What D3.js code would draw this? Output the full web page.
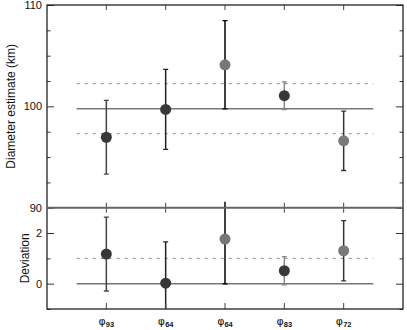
<!DOCTYPE html>
<html>
<head>
<meta charset="utf-8">
<script src="https://cdn.jsdelivr.net/npm/d3@7"></script>
<style>
  body { margin: 0; background: #fff; }
  text { font-family: "Liberation Sans", Arial, sans-serif; }
</style>
</head>
<body>
<div id="chart"></div>
<script>
// values
var labels = ["93", "64", "64", "83", "72"];
var diameter = [96.95, 99.7, 104.1, 101.05, 96.6];
var diameterErr = [3.63, 3.95, 4.35, 1.37, 2.93];
var deviation = [1.17, 0.02, 1.76, 0.51, 1.30];
var deviationErr = [1.46, 1.63, 1.77, 0.56, 1.19];
var meanDiameter = 99.77;
var spreadDiameter = 2.47;
var devLines = [0, 1];
var diamTicks = [90, 100, 110];
var devTicks = [0, 2];

// styles per point
var dotFill = ["#383838", "#383838", "#777", "#383838", "#7a7a7a"];
var barColor = ["#444", "#222", "#000", "#888", "#333"];

var W = 407, H = 330;
var left = 47, right = 403, top1 = 5, mid = 207.7, bottom = 309;

var svg = d3.select("#chart").append("svg")
    .attr("width", W).attr("height", H);

var x = d3.scaleLinear().domain([0, 6]).range([left, right]);
var yTop = d3.scaleLinear().domain([90, 110]).range([mid, top1]);
var yBot = d3.scaleLinear().domain([-1, 3]).range([bottom, mid]);

var idx = d3.range(labels.length);

// clip paths
var defs = svg.append("defs");
defs.append("clipPath").attr("id", "clipTop").append("rect")
    .attr("x", left).attr("y", top1).attr("width", right - left).attr("height", mid - top1);
defs.append("clipPath").attr("id", "clipBot").append("rect")
    .attr("x", left).attr("y", mid - 6).attr("width", right - left).attr("height", bottom - mid + 6);

function panel(y, vals, errs, refLines, majors, minorStep, clipId) {
  var g = svg.append("g");
  var inner = g.append("g").attr("clip-path", "url(#" + clipId + ")");

  // reference lines
  inner.selectAll(".ref").data(refLines).enter().append("line")
      .attr("x1", x(0.5)).attr("x2", x(5.5))
      .attr("y1", function(d) { return y(d.v); })
      .attr("y2", function(d) { return y(d.v); })
      .attr("stroke", function(d) { return d.dash ? "#888" : "#777"; })
      .attr("stroke-width", function(d) { return d.dash ? 1 : 1.4; })
      .attr("stroke-dasharray", function(d) { return d.dash ? "3,5" : null; });

  // error bars
  inner.selectAll(".err").data(idx).enter().append("line")
      .attr("x1", function(i) { return x(i + 1); })
      .attr("x2", function(i) { return x(i + 1); })
      .attr("y1", function(i) { return y(vals[i] + errs[i]); })
      .attr("y2", function(i) { return y(vals[i] - errs[i]); })
      .attr("stroke", function(i) { return barColor[i]; })
      .attr("stroke-width", 1.5);
  [1, -1].forEach(function(s) {
    inner.selectAll(".cap" + s).data(idx).enter().append("line")
        .attr("x1", function(i) { return x(i + 1) - 2.5; })
        .attr("x2", function(i) { return x(i + 1) + 2.5; })
        .attr("y1", function(i) { return y(vals[i] + s * errs[i]); })
        .attr("y2", function(i) { return y(vals[i] + s * errs[i]); })
        .attr("stroke", function(i) { return barColor[i]; })
        .attr("stroke-width", 1.3);
  });

  // points
  inner.selectAll(".dot").data(idx).enter().append("circle")
      .attr("cx", function(i) { return x(i + 1); })
      .attr("cy", function(i) { return y(vals[i]); })
      .attr("r", 5.5)
      .attr("fill", function(i) { return dotFill[i]; });

  // y axes, left with labels, right mirrored
  var dom = y.domain();
  var minors = d3.range(dom[0], dom[1] + 1e-9, minorStep).filter(function(v) { return majors.indexOf(v) < 0; });
  g.append("g").attr("transform", "translate(" + left + ",0)")
      .call(d3.axisLeft(y).tickValues(majors).tickSizeInner(-7).tickSizeOuter(0).tickPadding(5).tickFormat(d3.format("d")))
      .call(function(a) { a.select(".domain").remove(); });
  g.append("g").attr("transform", "translate(" + left + ",0)")
      .call(d3.axisLeft(y).tickValues(minors).tickSizeInner(-3.5).tickSizeOuter(0).tickFormat(""))
      .call(function(a) { a.select(".domain").remove(); });
  g.append("g").attr("transform", "translate(" + right + ",0)")
      .call(d3.axisRight(y).tickValues(majors).tickSizeInner(-7).tickSizeOuter(0).tickFormat(""))
      .call(function(a) { a.select(".domain").remove(); });
  g.append("g").attr("transform", "translate(" + right + ",0)")
      .call(d3.axisRight(y).tickValues(minors).tickSizeInner(-3.5).tickSizeOuter(0).tickFormat(""))
      .call(function(a) { a.select(".domain").remove(); });
  g.selectAll(".tick line").attr("stroke", "#333").attr("stroke-width", 1);
  g.selectAll(".tick text").attr("font-size", 11).attr("fill", "#111")
      .attr("font-family", "'Liberation Sans', Arial, sans-serif");
  return g;
}

panel(yTop, diameter, diameterErr,
  [{v: meanDiameter, dash: false}, {v: meanDiameter + spreadDiameter, dash: true}, {v: meanDiameter - spreadDiameter, dash: true}],
  diamTicks, 2.5, "clipTop");

panel(yBot, deviation, deviationErr,
  devLines.map(function(v, i) { return {v: v, dash: i > 0}; }),
  devTicks, 1, "clipBot");

// x ticks at frame edges
var cats = idx.map(function(i) { return i + 1; });
[[top1, 5], [mid, -5], [mid, 5], [bottom, -6]].forEach(function(p) {
  svg.append("g").selectAll("line").data(cats).enter().append("line")
      .attr("x1", function(d) { return x(d); }).attr("x2", function(d) { return x(d); })
      .attr("y1", p[0]).attr("y2", p[0] + p[1])
      .attr("stroke", "#444").attr("stroke-width", 1);
});

// frame
svg.append("rect").attr("x", left).attr("y", top1)
    .attr("width", right - left).attr("height", bottom - top1)
    .attr("fill", "none").attr("stroke", "#222").attr("stroke-width", 1.3);
svg.append("line").attr("x1", left).attr("x2", right).attr("y1", mid).attr("y2", mid)
    .attr("stroke", "#666").attr("stroke-width", 2);

// x labels: phi with subscript (grayscale group)
var xl = svg.append("g").attr("opacity", 0.99)
  .selectAll("text").data(idx).enter().append("text")
    .attr("x", function(i) { return x(i + 1); })
    .attr("y", 325)
    .attr("text-anchor", "middle")
    .attr("fill", "#111");
xl.append("tspan").attr("font-size", 11).attr("fill", "#111")
    .attr("font-family", "'DejaVu Sans', sans-serif").text("\u03c6");
xl.append("tspan").attr("font-size", 7.5).attr("font-weight", "bold").attr("fill", "#111").attr("dy", 2)
    .text(function(i) { return labels[i]; });

// axis titles
svg.append("text").attr("transform", "translate(15," + yTop(100) + ") rotate(-90)")
    .attr("text-anchor", "middle").attr("font-size", 12).attr("fill", "#111")
    .text("Diameter estimate (km)");
svg.append("text").attr("transform", "translate(29," + yBot(1) + ") rotate(-90)")
    .attr("text-anchor", "middle").attr("font-size", 12).attr("fill", "#111")
    .text("Deviation");
</script>
</body>
</html>
